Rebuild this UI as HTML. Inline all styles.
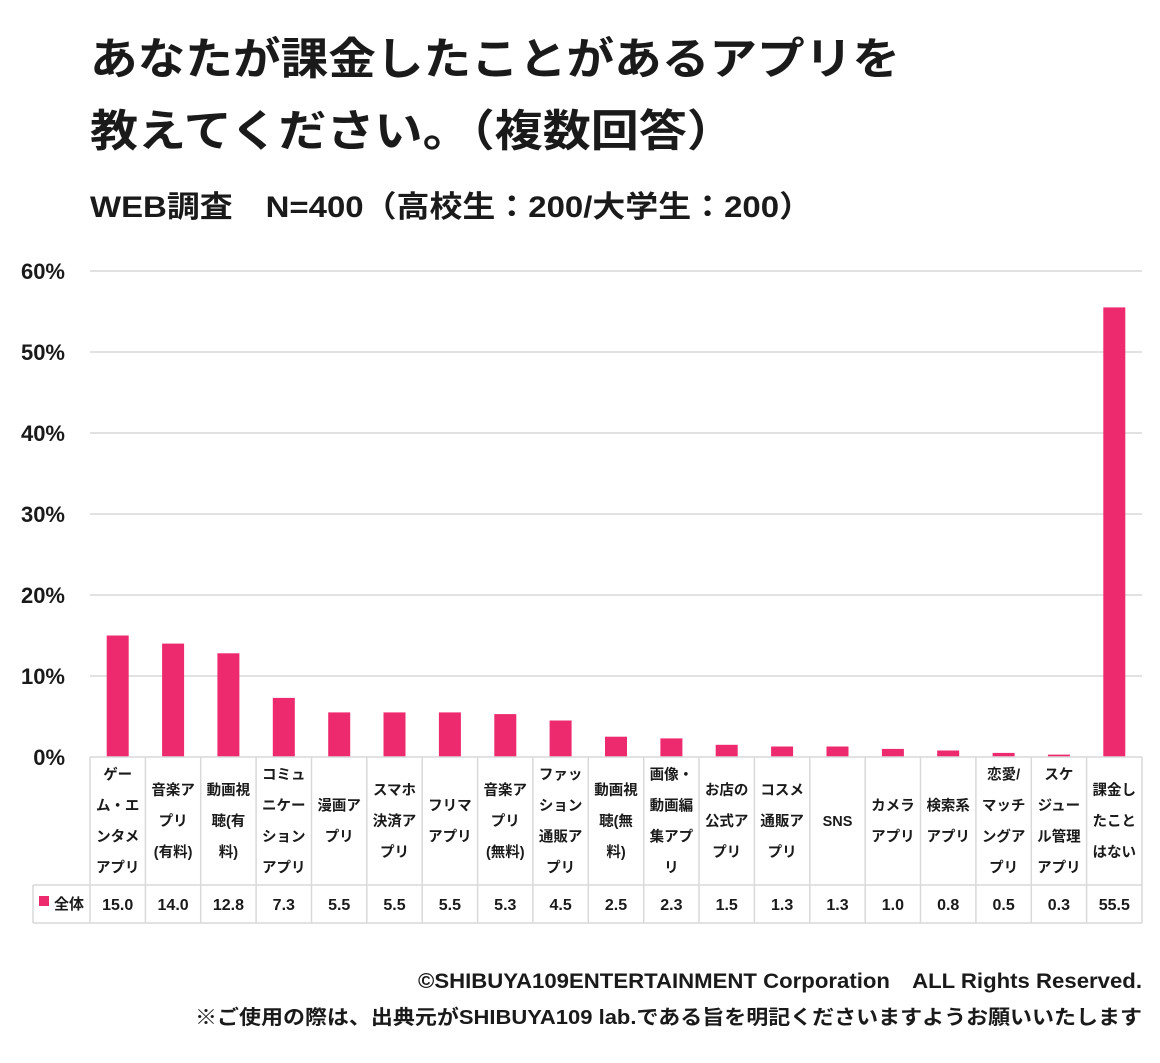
<!DOCTYPE html>
<html><head><meta charset="utf-8"><style>
body{margin:0;background:#fff;}
text{font-family:"Liberation Sans","Noto Sans CJK JP",sans-serif;font-weight:bold;fill:#1a1a1a;}
</style></head><body>
<svg width="1160" height="1058" xmlns="http://www.w3.org/2000/svg">
<text x="90" y="74" font-size="44" textLength="810" lengthAdjust="spacingAndGlyphs">あなたが課金したことがあるアプリを</text>
<text x="90" y="146" font-size="44" textLength="645" lengthAdjust="spacingAndGlyphs">教えてください。（複数回答）</text>
<text x="90" y="217" font-size="30" textLength="722" lengthAdjust="spacingAndGlyphs">WEB調査　N=400（高校生：200/大学生：200）</text>
<g stroke="#d9d9d9" stroke-width="1.5">
<line x1="90" y1="271" x2="1142" y2="271"/><line x1="90" y1="352" x2="1142" y2="352"/>
<line x1="90" y1="433" x2="1142" y2="433"/><line x1="90" y1="514" x2="1142" y2="514"/>
<line x1="90" y1="595" x2="1142" y2="595"/><line x1="90" y1="676" x2="1142" y2="676"/>
</g>
<g font-size="22" text-anchor="end">
<text x="65" y="279">60%</text><text x="65" y="360">50%</text><text x="65" y="441">40%</text>
<text x="65" y="522">30%</text><text x="65" y="603">20%</text><text x="65" y="684">10%</text><text x="65" y="765">0%</text>
</g>
<g fill="#ee2a6e">
<rect x="106.7" y="635.5" width="22" height="121.5"/>
<rect x="162.1" y="643.6" width="22" height="113.4"/>
<rect x="217.4" y="653.3" width="22" height="103.7"/>
<rect x="272.8" y="697.9" width="22" height="59.1"/>
<rect x="328.2" y="712.4" width="22" height="44.6"/>
<rect x="383.5" y="712.4" width="22" height="44.6"/>
<rect x="438.9" y="712.4" width="22" height="44.6"/>
<rect x="494.3" y="714.1" width="22" height="42.9"/>
<rect x="549.6" y="720.5" width="22" height="36.5"/>
<rect x="605.0" y="736.7" width="22" height="20.3"/>
<rect x="660.4" y="738.4" width="22" height="18.6"/>
<rect x="715.7" y="744.8" width="22" height="12.2"/>
<rect x="771.1" y="746.5" width="22" height="10.5"/>
<rect x="826.5" y="746.5" width="22" height="10.5"/>
<rect x="881.9" y="748.9" width="22" height="8.1"/>
<rect x="937.2" y="750.5" width="22" height="6.5"/>
<rect x="992.6" y="752.9" width="22" height="4.1"/>
<rect x="1047.9" y="754.6" width="22" height="2.4"/>
<rect x="1103.3" y="307.4" width="22" height="449.6"/>
</g>
<g stroke="#d9d9d9" stroke-width="1.5" fill="none">
<line x1="90" y1="757" x2="1142" y2="757"/><line x1="33" y1="885" x2="1142" y2="885"/><line x1="33" y1="923" x2="1142" y2="923"/>
<line x1="33" y1="885" x2="33" y2="923"/>
<line x1="90" y1="757" x2="90" y2="923"/><line x1="145.4" y1="757" x2="145.4" y2="923"/><line x1="200.7" y1="757" x2="200.7" y2="923"/>
<line x1="256.1" y1="757" x2="256.1" y2="923"/><line x1="311.5" y1="757" x2="311.5" y2="923"/><line x1="366.8" y1="757" x2="366.8" y2="923"/>
<line x1="422.2" y1="757" x2="422.2" y2="923"/><line x1="477.6" y1="757" x2="477.6" y2="923"/><line x1="532.9" y1="757" x2="532.9" y2="923"/>
<line x1="588.3" y1="757" x2="588.3" y2="923"/><line x1="643.7" y1="757" x2="643.7" y2="923"/><line x1="699.0" y1="757" x2="699.0" y2="923"/>
<line x1="754.4" y1="757" x2="754.4" y2="923"/><line x1="809.8" y1="757" x2="809.8" y2="923"/><line x1="865.2" y1="757" x2="865.2" y2="923"/>
<line x1="920.5" y1="757" x2="920.5" y2="923"/><line x1="975.9" y1="757" x2="975.9" y2="923"/><line x1="1031.3" y1="757" x2="1031.3" y2="923"/>
<line x1="1086.6" y1="757" x2="1086.6" y2="923"/><line x1="1142" y1="757" x2="1142" y2="923"/>
</g>
<g font-size="14.5" text-anchor="middle">
<text x="117.7" y="779.5">ゲー</text><text x="117.7" y="810.5">ム・エ</text><text x="117.7" y="841.5">ンタメ</text><text x="117.7" y="872.5">アプリ</text>
<text x="173.1" y="795">音楽ア</text><text x="173.1" y="826">プリ</text><text x="173.1" y="857">(有料)</text>
<text x="228.4" y="795">動画視</text><text x="228.4" y="826">聴(有</text><text x="228.4" y="857">料)</text>
<text x="283.8" y="779.5">コミュ</text><text x="283.8" y="810.5">ニケー</text><text x="283.8" y="841.5">ション</text><text x="283.8" y="872.5">アプリ</text>
<text x="339.2" y="810.5">漫画ア</text><text x="339.2" y="841.5">プリ</text>
<text x="394.5" y="795">スマホ</text><text x="394.5" y="826">決済ア</text><text x="394.5" y="857">プリ</text>
<text x="449.9" y="810.5">フリマ</text><text x="449.9" y="841.5">アプリ</text>
<text x="505.3" y="795">音楽ア</text><text x="505.3" y="826">プリ</text><text x="505.3" y="857">(無料)</text>
<text x="560.6" y="779.5">ファッ</text><text x="560.6" y="810.5">ション</text><text x="560.6" y="841.5">通販ア</text><text x="560.6" y="872.5">プリ</text>
<text x="616.0" y="795">動画視</text><text x="616.0" y="826">聴(無</text><text x="616.0" y="857">料)</text>
<text x="671.4" y="779.5">画像・</text><text x="671.4" y="810.5">動画編</text><text x="671.4" y="841.5">集アプ</text><text x="671.4" y="872.5">リ</text>
<text x="726.7" y="795">お店の</text><text x="726.7" y="826">公式ア</text><text x="726.7" y="857">プリ</text>
<text x="782.1" y="795">コスメ</text><text x="782.1" y="826">通販ア</text><text x="782.1" y="857">プリ</text>
<text x="837.5" y="826">SNS</text>
<text x="892.9" y="810.5">カメラ</text><text x="892.9" y="841.5">アプリ</text>
<text x="948.2" y="810.5">検索系</text><text x="948.2" y="841.5">アプリ</text>
<text x="1003.6" y="779.5">恋愛/</text><text x="1003.6" y="810.5">マッチ</text><text x="1003.6" y="841.5">ングア</text><text x="1003.6" y="872.5">プリ</text>
<text x="1058.9" y="779.5">スケ</text><text x="1058.9" y="810.5">ジュー</text><text x="1058.9" y="841.5">ル管理</text><text x="1058.9" y="872.5">アプリ</text>
<text x="1114.3" y="795">課金し</text><text x="1114.3" y="826">たこと</text><text x="1114.3" y="857">はない</text>
</g>
<g font-size="16" text-anchor="middle">
<text x="117.7" y="910">15.0</text><text x="173.1" y="910">14.0</text><text x="228.4" y="910">12.8</text><text x="283.8" y="910">7.3</text>
<text x="339.2" y="910">5.5</text><text x="394.5" y="910">5.5</text><text x="449.9" y="910">5.5</text><text x="505.3" y="910">5.3</text>
<text x="560.6" y="910">4.5</text><text x="616.0" y="910">2.5</text><text x="671.4" y="910">2.3</text><text x="726.7" y="910">1.5</text>
<text x="782.1" y="910">1.3</text><text x="837.5" y="910">1.3</text><text x="892.9" y="910">1.0</text><text x="948.2" y="910">0.8</text>
<text x="1003.6" y="910">0.5</text><text x="1058.9" y="910">0.3</text><text x="1114.3" y="910">55.5</text>
</g>
<rect x="39" y="896" width="10" height="10" fill="#ee2a6e"/>
<text x="54" y="909" font-size="15">全体</text>
<text x="418" y="988" font-size="21" textLength="724" lengthAdjust="spacingAndGlyphs">©SHIBUYA109ENTERTAINMENT Corporation　ALL Rights Reserved.</text>
<text x="195" y="1024" font-size="20" textLength="947" lengthAdjust="spacingAndGlyphs">※ご使用の際は、出典元がSHIBUYA109 lab.である旨を明記くださいますようお願いいたします</text>
</svg>
</body></html>
